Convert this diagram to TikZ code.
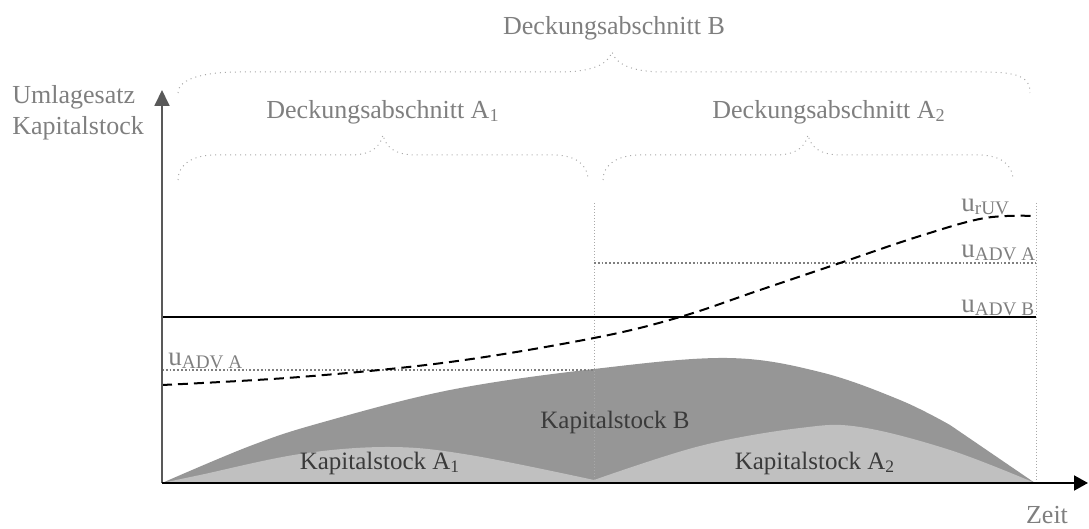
\documentclass[tikz,border=0pt]{standalone}
\usepackage{fontspec}
\setmainfont{Liberation Serif}
\usetikzlibrary{arrows.meta}
\definecolor{txtgray}{HTML}{7F7F7F}
\definecolor{darkfill}{HTML}{969696}
\definecolor{lightfill}{HTML}{C0C0C0}
\definecolor{kaptext}{HTML}{3A3A3A}
\definecolor{bracegray}{HTML}{A8A8A8}
\definecolor{axisgray}{HTML}{595959}
\newcommand\usubx[1]{\raisebox{-0.2ex}{\fontsize{9.6}{11}\selectfont #1}}
\begin{document}
\begin{tikzpicture}[x=0.5pt,y=-0.5pt,
  lbl/.style={text=txtgray,font=\fontsize{13}{15.5}\selectfont,inner sep=0pt},
  kaplbl/.style={text=kaptext,font=\fontsize{12.5}{15}\selectfont,inner sep=0pt},
  ulbl/.style={text=txtgray,font=\fontsize{13.5}{15}\selectfont,inner sep=0pt,anchor=base west},
  bracestyle/.style={draw=bracegray,line width=0.5pt,dotted},
  vline/.style={draw=bracegray,line width=0.5pt,densely dotted},
  advline/.style={draw=txtgray,line width=0.9pt,densely dotted},
  ruv/.style={draw=black,line width=1pt,dash pattern=on 5pt off 3pt}]
\useasboundingbox (0,0) rectangle (1089,529);

% coordinates
\coordinate (O) at (162,483);
\coordinate (Ytop) at (162,90);
\coordinate (Xend) at (1088,483);
\coordinate (M1) at (594,203);
\coordinate (M0) at (594,483);
\coordinate (R1) at (1036,203);
\coordinate (R0) at (1036,483);

% fills
\fill[darkfill] plot[smooth,tension=0.6] coordinates {(162,483) (250,446) (320,423) (450,390) (594,369) (727,358) (820,372) (900,400) (950,425)} -- (1035,483) -- cycle;
\fill[lightfill] plot[smooth,tension=0.6] coordinates {(162,483) (200,475) (300,454) (390,447) (470,455) (594,480)}
  -- plot[smooth,tension=0.6] coordinates {(594,480) (700,446) (800,428) (860,427) (950,450) (1035,483)} -- cycle;

% vertical dotted lines
\draw[vline] (M1) -- (M0);
\draw[vline] (R1) -- (R0);

% u lines
\coordinate (BL) at (162,317);
\coordinate (BR) at (1036,317);
\draw[black,line width=1pt] (BL) -- (BR);
\coordinate (AL1) at (162,370);
\coordinate (AL2) at (594,370);
\draw[advline] (AL1) -- (AL2);
\coordinate (AR1) at (594,263);
\coordinate (AR2) at (1036,263);
\draw[advline] (AR1) -- (AR2);

% rUV dashed curve
\draw[ruv] plot[smooth,tension=0.6] coordinates {(162,385) (300,377) (450,362) (594,338) (680,317) (760,290) (840,263) (920,236) (985,218) (1036,216)};

% axes
\draw[axisgray,line width=0.9pt,-{Triangle[width=7.5pt,length=8pt]}] (O) -- (Ytop);
\draw[black,line width=1pt,-{Triangle[width=7.5pt,length=7pt]}] (O) -- (Xend);

% braces
\draw[bracestyle] (178,93) .. controls (178,80) and (200,72) .. (240,72) -- (560,72) .. controls (590,72) and (608,65) .. (612,52)
  .. controls (616,65) and (634,72) .. (664,72) -- (984,72) .. controls (1024,72) and (1030,80) .. (1030,93);
\draw[bracestyle] (178,180) .. controls (178,165) and (192,155) .. (215,155) -- (350,155) .. controls (370,155) and (380,148) .. (383,135)
  .. controls (386,148) and (396,155) .. (416,155) -- (553,155) .. controls (576,155) and (588,165) .. (588,180);
\draw[bracestyle] (603,180) .. controls (603,165) and (617,155) .. (640,155) -- (775,155) .. controls (795,155) and (805,148) .. (808,135)
  .. controls (811,148) and (821,155) .. (841,155) -- (978,155) .. controls (1001,155) and (1013,165) .. (1013,180);

% texts
\node[lbl] (tB) at (614,28) {Deckungsabschnitt B};
\node[lbl] (tA1) at (383,112) {Deckungsabschnitt A\textsubscript{1}};
\node[lbl] (tA2) at (829,112) {Deckungsabschnitt A\textsubscript{2}};
\node[lbl,anchor=west,align=left] (ylab) at (12,113) {Umlagesatz\\Kapitalstock};
\node[lbl] (xlab) at (1047,515) {Zeit};

\node[ulbl] (uruv) at (961,212) {u\usubx{rUV}};
\node[ulbl] (uadvar) at (961,258) {u\usubx{ADV A}};
\node[ulbl] (uadvb) at (961,313) {u\usubx{ADV B}};
\node[ulbl] (uadval) at (168,366) {u\usubx{ADV A}};

\node[kaplbl] (kB) at (615,422) {Kapitalstock B};
\node[kaplbl] (kA1) at (380,463) {Kapitalstock A\textsubscript{1}};
\node[kaplbl] (kA2) at (815,463) {Kapitalstock A\textsubscript{2}};
\end{tikzpicture}
\end{document}
